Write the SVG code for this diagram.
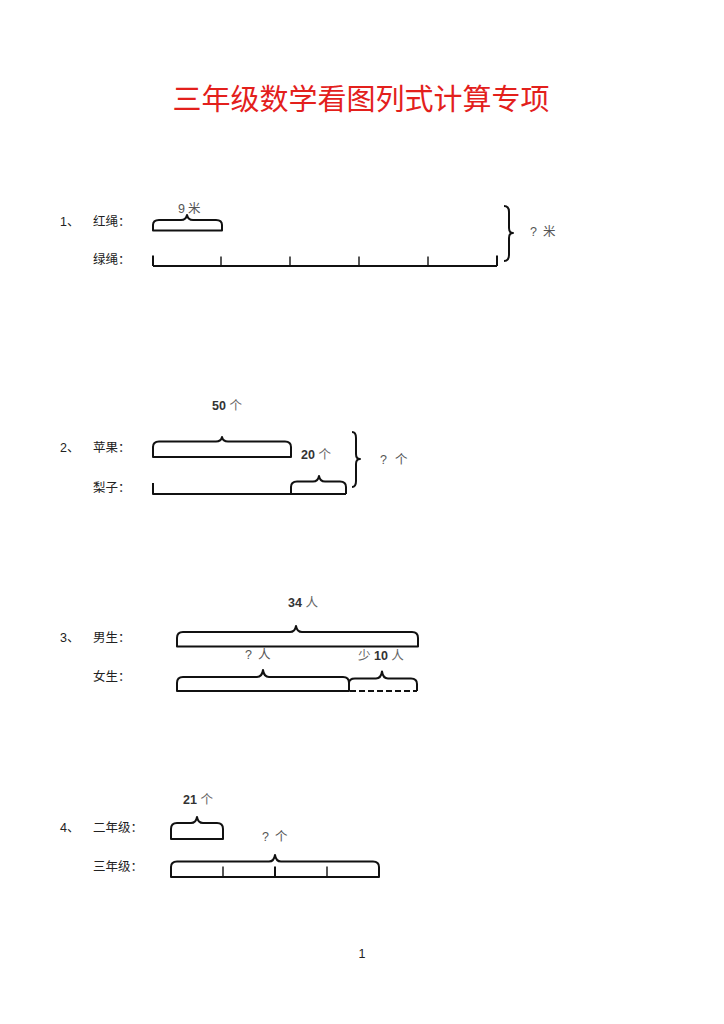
<svg xmlns="http://www.w3.org/2000/svg" width="724" height="1024" viewBox="0 0 724 1024">
<style>
.bar{fill:none;stroke:#111;stroke-width:2;stroke-linejoin:round;stroke-linecap:butt}
.thin{fill:none;stroke:#111;stroke-width:1.4}
.lbl{font-family:"Liberation Sans","Noto Sans CJK SC",sans-serif;font-size:12.5px;fill:#222}
.q{font-family:"Liberation Sans","Noto Sans CJK SC",sans-serif;font-size:12.5px;fill:#555}
.num{font-weight:bold;fill:#333}
.unit{fill:#666;font-weight:normal}
.title{font-family:"Noto Sans CJK SC","Liberation Sans",sans-serif;font-size:29px;fill:#e3201c}
</style>
<rect width="724" height="1024" fill="#fff"/>
<text class="title" x="361" y="110" text-anchor="middle">三年级数学看图列式计算专项</text>

<g id="p1">
<text class="lbl" x="60" y="226">1、</text>
<text class="lbl" x="93" y="226">红绳：</text>
<text class="lbl" x="93" y="264">绿绳：</text>
<text class="q" y="213"><tspan x="178">9</tspan><tspan x="188">米</tspan></text>
<path class="bar" d="M153 230.5 V225 Q153 220 159 220 H181 Q186 220 187 215 Q188 220 193 220 H216 Q222 220 222 225 V230.5 Z"/>
<path class="bar" d="M153 266 H497"/>
<path class="bar" stroke-width="2.5" d="M153 255.5 V266 M497 255.5 V266"/>
<path class="thin" d="M221 256.5 V266 M290 256.5 V266 M359 256.5 V266 M428 256.5 V266"/>
<path class="bar" d="M504 206 Q509 206 509 212 V228 Q509 233 513 233 Q509 233 509 238 V255 Q509 261 504 261"/>
<text class="q" y="236"><tspan x="530">?</tspan><tspan x="543">米</tspan></text>
</g>

<g id="p2">
<text class="lbl" x="60" y="452">2、</text>
<text class="lbl" x="93" y="452">苹果：</text>
<text class="lbl" x="93" y="492">梨子：</text>
<text class="lbl" x="212" y="410"><tspan class="num">50</tspan><tspan class="unit"> 个</tspan></text>
<path class="bar" d="M153 457 V447 Q153 441.5 159 441.5 H216 Q221 441.5 222 437 Q223 441.5 228 441.5 H285 Q291 441.5 291 447 V457 Z"/>
<text class="lbl" x="301" y="459"><tspan class="num">20</tspan><tspan class="unit"> 个</tspan></text>
<path class="bar" d="M153 483 V494 H346"/>
<path class="bar" d="M291 494 V487 Q291 481.5 297 481.5 H313 Q318 481.5 319 476 Q320 481.5 325 481.5 H340 Q346 481.5 346 487 V494"/>
<path class="bar" d="M352 432 Q356 432 356 438 V454 Q356 459 360 459 Q356 459 356 464 V481 Q356 487 352 487"/>
<text class="q" y="464"><tspan x="380">?</tspan><tspan x="395">个</tspan></text>
</g>

<g id="p3">
<text class="lbl" x="60" y="642">3、</text>
<text class="lbl" x="93" y="642">男生：</text>
<text class="lbl" x="93" y="681">女生：</text>
<text class="lbl" x="288" y="607"><tspan class="num">34</tspan><tspan class="unit"> 人</tspan></text>
<path class="bar" d="M177 646.5 V638 Q177 632 183 632 H290 Q295 632 296 626 Q297 632 302 632 H412 Q418 632 418 638 V646.5 Z"/>
<text class="q" y="659"><tspan x="245">?</tspan><tspan x="258">人</tspan></text>
<text class="lbl" x="358" y="660"><tspan class="unit">少 </tspan><tspan class="num">10</tspan><tspan class="unit"> 人</tspan></text>
<path class="bar" d="M177 691 V683 Q177 677 183 677 H257 Q262 677 263 670 Q264 677 269 677 H343 Q349 677 349 683 V691 Z"/>
<path class="bar" d="M349 683 Q349 678.5 355 678.5 H376 Q381 678.5 382 671.5 Q383 678.5 388 678.5 H411 Q417 678.5 417 684 V691"/>
<path class="bar" stroke-dasharray="6,3" d="M350 691 H417"/>
</g>

<g id="p4">
<text class="lbl" x="60" y="832">4、</text>
<text class="lbl" x="93" y="832">二年级：</text>
<text class="lbl" x="93" y="871">三年级：</text>
<text class="lbl" x="183" y="804"><tspan class="num">21</tspan><tspan class="unit"> 个</tspan></text>
<path class="bar" d="M171 839 V829 Q171 823 177 823 H191 Q196 823 197 817 Q198 823 203 823 H217 Q223 823 223 829 V839 Z"/>
<text class="q" y="841"><tspan x="262">?</tspan><tspan x="275">个</tspan></text>
<path class="bar" d="M171 877 V867 Q171 861.5 177 861.5 H269 Q274 861.5 275 855 Q276 861.5 281 861.5 H373 Q379 861.5 379 867 V877 Z"/>
<path class="thin" d="M223 866.5 V877 M327 866.5 V877"/>
<path class="bar" d="M275 866.5 V878"/>
</g>

<text class="lbl" x="362" y="958" text-anchor="middle" font-size="9" fill="#222">1</text>
</svg>
